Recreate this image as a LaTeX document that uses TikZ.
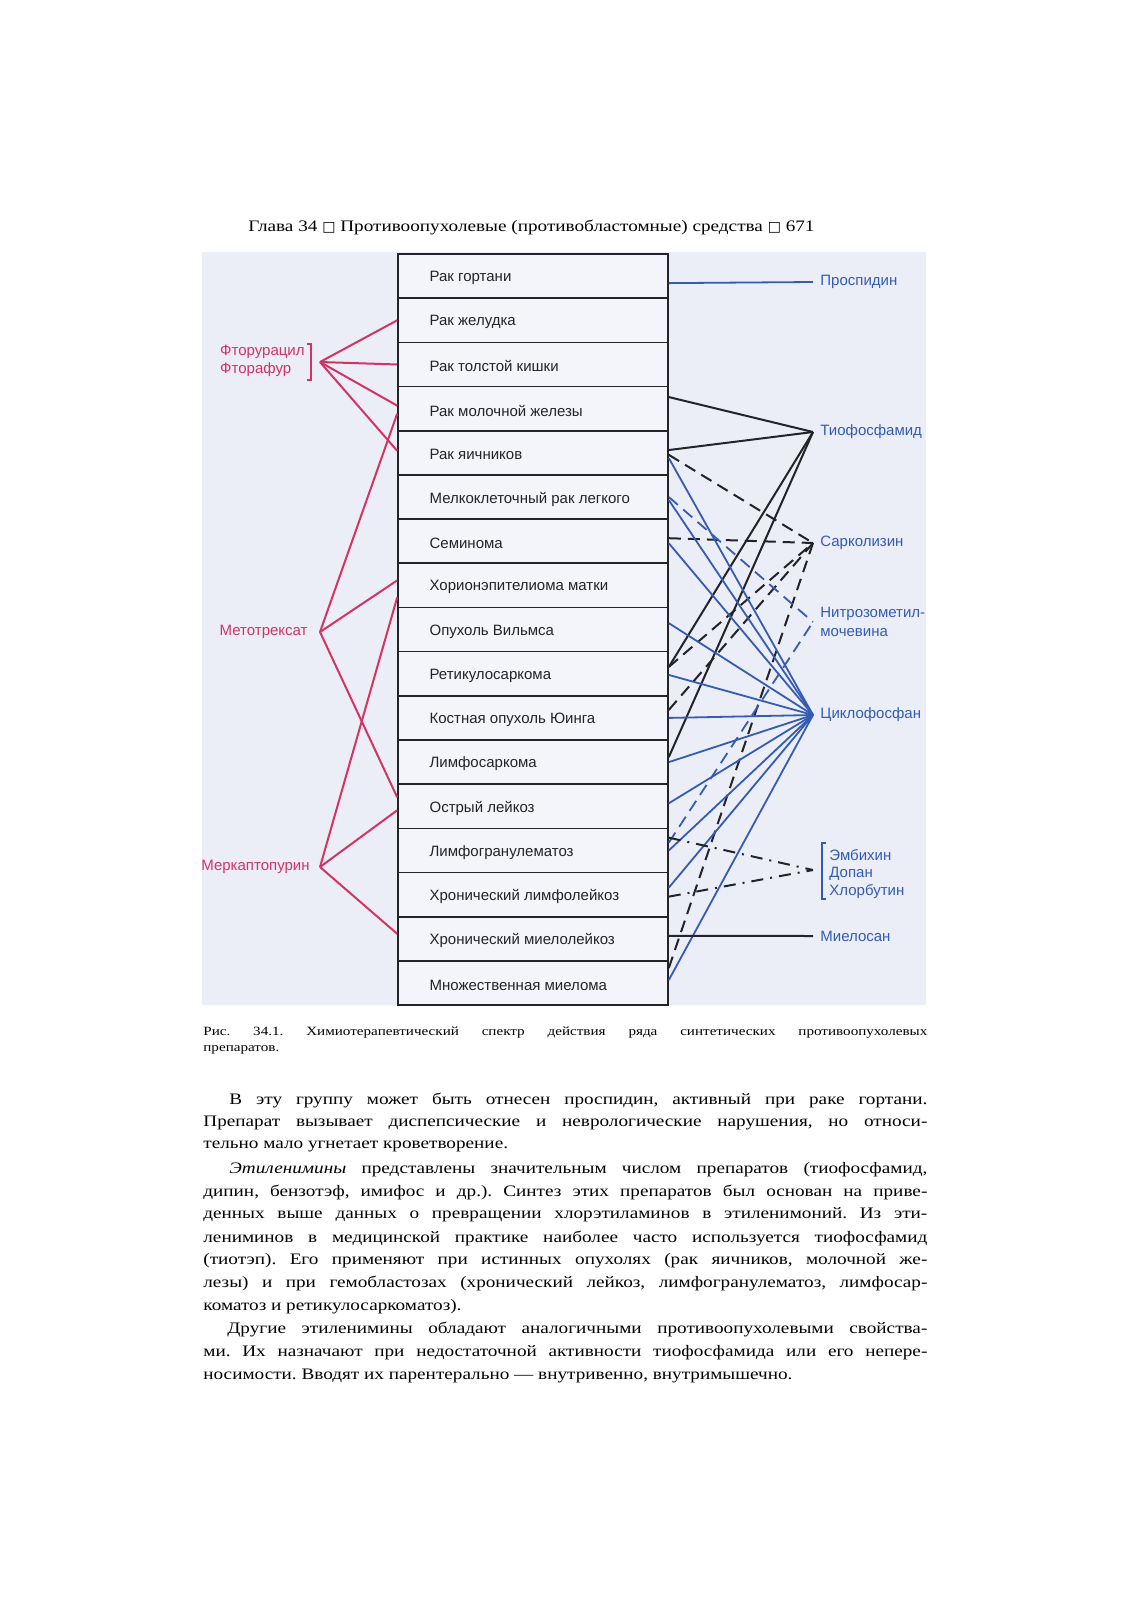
\documentclass[tikz,border=0pt]{standalone}
\usepackage{fontspec}
\usetikzlibrary{positioning}
\newfontfamily\bookfont[FakeStretch=1.2]{Liberation Serif}
\newfontfamily\diafont{Liberation Sans}
\newfontfamily\boxfont{DejaVu Sans}
\definecolor{panel}{RGB}{235,237,247}
\definecolor{rowfill}{RGB}{244,245,250}
\definecolor{drugred}{RGB}{212,52,100}
\definecolor{drugblue}{RGB}{52,92,180}
\definecolor{ink}{RGB}{35,35,40}

\tikzset{
  rowbox/.style={draw=ink, line width=0.8pt, fill=rowfill, minimum width=135pt, minimum height=22.12pt, inner sep=0pt},
  rowtext/.style={font=\diafont\fontsize{7.5}{9}\selectfont, text=ink, inner sep=0pt},
  redlabel/.style={font=\diafont\fontsize{7.5}{8.75}\selectfont, text=drugred, align=left},
  bluelabel/.style={font=\diafont\fontsize{7.5}{9.5}\selectfont, text=drugblue, align=left},
  redline/.style={draw=drugred, line width=1pt},
  blueline/.style={draw=drugblue, line width=0.9pt},
  blackline/.style={draw=ink, line width=1pt},
  blackdash/.style={blackline, dash pattern=on 6pt off 3.5pt},
  bluedash/.style={blueline, dash pattern=on 6pt off 3.5pt},
  dashdot/.style={blackline, dash pattern=on 6pt off 3.5pt on 1pt off 3.5pt},
  booktext/.style={font=\bookfont\fontsize{8}{11.5}\selectfont\frenchspacing, inner sep=0pt, anchor=west},
  captext/.style={font=\bookfont\fontsize{6.3}{8.7}\selectfont\frenchspacing, inner sep=0pt, anchor=west}
}
\newcommand{\fullline}[1]{\makebox[362pt][s]{#1}}
\newcommand{\emptybox}{{\boxfont\fontsize{7}{7}\selectfont □}}

\begin{document}
\begin{tikzpicture}[x=0.5pt,y=-0.5pt]
\useasboundingbox (0,0) rectangle (1132,1600);
\fill[white] (0,0) rectangle (1132,1600);
\fill[panel] (202,252) rectangle (926,1005);

% page header
\node[booktext] (head) at (248,227) {Глава 34 \emptybox\ Противоопухолевые (противобластомные) средства \emptybox\ 671};

% table of tumours
\foreach \t [count=\i from 0] in {Рак гортани, Рак желудка, Рак толстой кишки, Рак молочной железы, Рак яичников, Мелкоклеточный рак легкого, Семинома, Хорионэпителиома матки, Опухоль Вильмса, Ретикулосаркома, Костная опухоль Юинга, Лимфосаркома, Острый лейкоз, Лимфогранулематоз, Хронический лимфолейкоз, Хронический миелолейкоз, Множественная миелома} {
  \node[rowbox] (r\i) at (533, 276.12+44.18*\i) {};
  \node[rowtext, right=16pt of r\i.west, yshift=-1pt] (t\i) {\t};
}

% drugs on the left
\node[redlabel, anchor=east, inner sep=0pt] (ftor) at (305,361) {Фторурацил\\Фторафур};
\draw[redline] (307,344) -- (311,344) -- (311,380) -- (307,380);
\coordinate (ftorhub) at (320,362);
\node[redlabel, anchor=east, inner xsep=6pt] (met) at (320,632) {Метотрексат};
\node[redlabel, anchor=east, inner xsep=5pt] (merk) at (320,867) {Меркаптопурин};

\foreach \r/\s in {1/0pt, 2/0pt, 3/1.5pt, 4/1pt}
  \draw[redline] (ftorhub) -- ([yshift=\s]r\r.west);
\foreach \r/\s in {3/-2.5pt, 7/2.5pt, 12/4.5pt}
  \draw[redline] (met.east) -- ([yshift=\s]r\r.west);
\foreach \r/\s in {7/-6pt, 12/-2pt, 15/2.5pt}
  \draw[redline] (merk.east) -- ([yshift=\s]r\r.west);

% drugs on the right
\node[bluelabel, anchor=west, inner xsep=3.5pt] (prosp) at (813,282) {Проспидин};
\node[bluelabel, anchor=west, inner xsep=3.5pt] (tio) at (813,432) {Тиофосфамид};
\node[bluelabel, anchor=west, inner xsep=3.5pt] (sark) at (813,543) {Сарколизин};
\node[bluelabel, anchor=west, inner xsep=3.5pt] (nitro) at (813,622) {Нитрозометил-\\мочевина};
\node[bluelabel, anchor=west, inner xsep=3.5pt] (cyclo) at (813,715) {Циклофосфан};
\node[bluelabel, anchor=west, inner xsep=3.5pt] (miel) at (813,936) {Миелосан};
\coordinate (embhub) at (813,870);
\node[bluelabel, anchor=west, inner sep=0pt, font=\diafont\fontsize{7.5}{8.75}\selectfont] (emb) at (829,874) {Эмбихин\\Допан\\Хлорбутин};
\draw[blueline] (826,843) -- (822,843) -- (822,899) -- (826,899);

\draw[blueline] ([yshift=-3.5pt]r0.east) -- (prosp.west);
\foreach \r/\s in {3/5.8pt, 4/1.4pt, 9/3.4pt, 11/2.5pt}
  \draw[blackline] ([yshift=\s]r\r.east) -- (tio.west);
\foreach \r/\s in {4/-1pt, 6/1.5pt, 9/3.4pt, 10/4pt, 16/7.5pt}
  \draw[blackdash] ([yshift=\s]r\r.east) -- (sark.west);
\foreach \r/\s in {5/0pt, 13/3.9pt}
  \draw[bluedash] ([yshift=\s]r\r.east) -- (nitro.west);
\foreach \r/\s in {4/-2.6pt, 5/-1.5pt, 6/-1pt, 8/3.2pt, 9/-0.6pt, 10/0pt, 11/0pt, 12/1.5pt, 13/0pt, 14/3.5pt, 16/1.5pt}
  \draw[blueline] ([yshift=\s]r\r.east) -- (cyclo.west);
\foreach \r/\s in {13/6.4pt, 14/-1pt}
  \draw[dashdot] ([yshift=\s]r\r.east) -- (embhub);
\draw[blackline] ([yshift=1.5pt]r15.east) -- (miel.west);

% caption
\node[captext] (cap1) at (203,1033) {\fullline{Рис. 34.1. Химиотерапевтический спектр действия ряда синтетических противоопухолевых}};
\node[captext] (cap2) at (203,1050) {препаратов.};

% text below
\foreach \t [count=\i from 0] in {
  {\fullline{\hspace*{13pt}В эту группу может быть отнесен проспидин, активный при раке гортани.}},
  {\fullline{Препарат вызывает диспепсические и неврологические нарушения, но относи-}},
  {тельно мало угнетает кроветворение.},
  {\fullline{\hspace*{13pt}\textit{Этиленимины} представлены значительным числом препаратов (тиофосфамид,}},
  {\fullline{дипин, бензотэф, имифос и др.). Синтез этих препаратов был основан на приве-}},
  {\fullline{денных выше данных о превращении хлорэтиламинов в этиленимоний. Из эти-}},
  {\fullline{лениминов в медицинской практике наиболее часто используется тиофосфамид}},
  {\fullline{(тиотэп). Его применяют при истинных опухолях (рак яичников, молочной же-}},
  {\fullline{лезы) и при гемобластозах (хронический лейкоз, лимфогранулематоз, лимфосар-}},
  {коматоз и ретикулосаркоматоз).},
  {\fullline{\hspace*{12pt}Другие этиленимины обладают аналогичными противоопухолевыми свойства-}},
  {\fullline{ми. Их назначают при недостаточной активности тиофосфамида или его непере-}},
  {носимости. Вводят их парентерально — внутривенно, внутримышечно.}}
  \node[booktext] (b\i) at (203, 1100.3+22.96*\i) {\t};
\end{tikzpicture}
\end{document}
